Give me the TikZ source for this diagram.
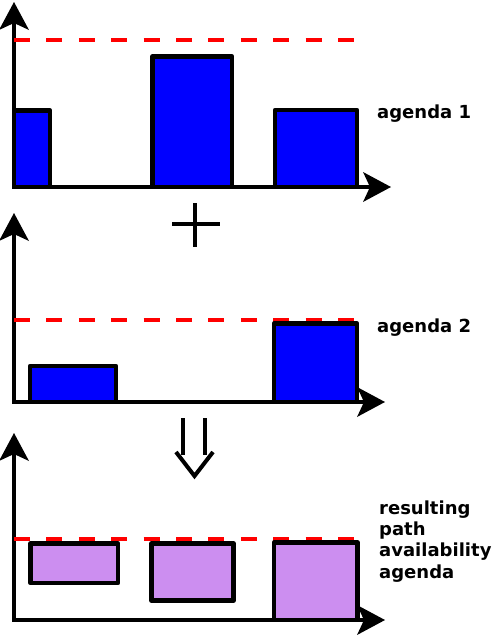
\documentclass[tikz,border=0pt]{standalone}
\usepackage{fontspec}
\newfontfamily\dejavu{DejaVu Sans}
\usetikzlibrary{arrows.meta}
\definecolor{barblue}{RGB}{0,0,255}
\definecolor{barpurple}{RGB}{204,142,240}
\definecolor{limitred}{RGB}{255,0,0}
\tikzset{
  axis/.style={line width=4.4pt,
    {Stealth[length=28pt,width=30pt,inset=7pt,line width=0pt]}-{Stealth[length=28pt,width=30pt,inset=7pt,line width=0pt]}},
  limit/.style={draw=limitred, line width=4.2pt, dash pattern=on 16pt off 16.4pt},
  bar/.style={draw=black, line width=4.4pt, fill=barblue, line join=round},
  resbar/.style={bar, fill=barpurple},
  oper/.style={line width=4pt},
  lbl/.style={font=\dejavu\bfseries\fontsize{18}{21.2}\selectfont, inner sep=0pt, anchor=base west, align=left}
}
\begin{document}
\begin{tikzpicture}[x=1pt,y=-1pt]
\useasboundingbox (0,0) rectangle (495,635);
% ---------- panel 1 ----------
\draw[axis] (14,2) |- (391,187);
\draw[limit] (14,40) -- (356,40);
\draw[bar] (14,187) rectangle (50,110.5);
\draw[bar] (152.5,187) rectangle (232,56.5);
\draw[bar] (275,187) rectangle (357,110);
\node[lbl] (lab1) at (377,118) {agenda 1};
% plus sign
\draw[oper] (172,224) -- (220,224);
\draw[oper] (195,203) -- (195,247);
% ---------- panel 2 ----------
\draw[axis] (14,213) |- (385,402);
\draw[limit] (14,320) -- (356,320);
\draw[bar] (30,402) rectangle (116,366);
\draw[bar] (274,402) rectangle (357,323.5);
\node[lbl] (lab2) at (377,332) {agenda 2};
% implication arrow
\draw[oper] (183,418) -- (183,455);
\draw[oper] (205,418) -- (205,455);
\draw[oper] (176,452) -- (194.5,476) -- (213,452);
% ---------- panel 3 ----------
\draw[axis] (14,433) |- (385,620);
\draw[limit] (14,539) -- (356,539);
\draw[resbar] (30.5,583) rectangle (118,543.5);
\draw[resbar] (151.5,600.5) rectangle (233.5,543.5);
\draw[resbar] (274,620) rectangle (357.5,542.5);
\node[lbl] (lab3) at (379,578) {resulting\\path\\availability\\agenda};
\end{tikzpicture}
\end{document}
